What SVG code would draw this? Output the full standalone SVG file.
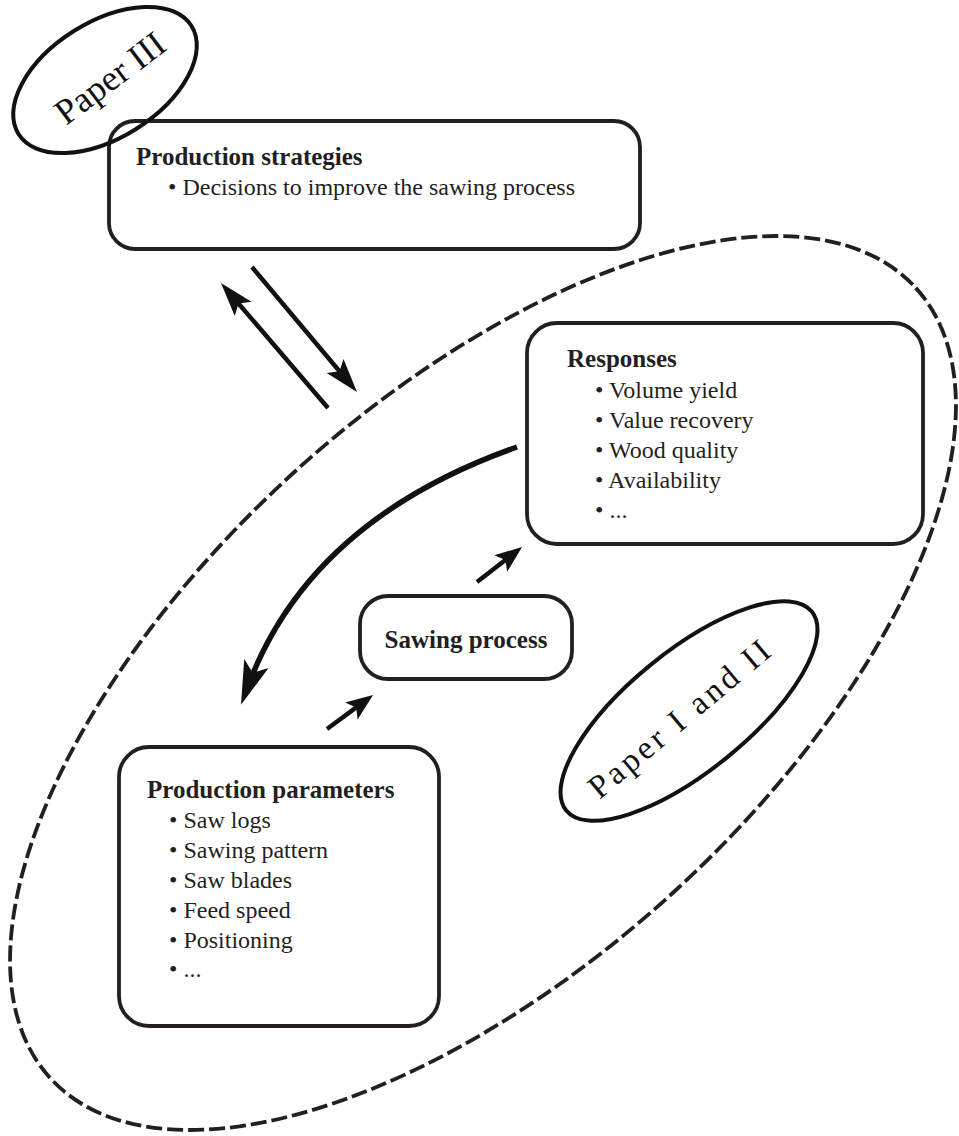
<svg xmlns="http://www.w3.org/2000/svg" width="959" height="1136" viewBox="0 0 959 1136">
<style>
.box{fill:#fff;stroke:#231f20;stroke-width:3.8}
.oval{fill:none;stroke:#111;stroke-width:4}
.dash{fill:none;stroke:#231f20;stroke-width:3.8;stroke-dasharray:16 5}
.h{font-family:"Liberation Serif","Times New Roman",serif;font-weight:bold;font-size:25px;fill:#231f20}
.t{font-family:"Liberation Serif","Times New Roman",serif;font-size:24px;fill:#231f20}
.lbl{font-family:"Liberation Serif","Times New Roman",serif;fill:#111}
.ln{fill:none;stroke:#111;stroke-width:4.5}
.arr{fill:#111}
</style>
<defs>
<marker id="headL" viewBox="-50 -20 60 40" markerWidth="60" markerHeight="40" refX="-20" refY="0" orient="auto" markerUnits="userSpaceOnUse">
<path class="arr" d="M0,0 L-44,-13 L-34,0 L-44,13 Z"/>
</marker>
<marker id="headM" viewBox="-50 -20 60 40" markerWidth="60" markerHeight="40" refX="-20" refY="0" orient="auto" markerUnits="userSpaceOnUse">
<path class="arr" d="M0,0 L-34,-11 L-27,0 L-34,11 Z"/>
</marker>
<marker id="headS" viewBox="-50 -20 60 40" markerWidth="60" markerHeight="40" refX="-15" refY="0" orient="auto" markerUnits="userSpaceOnUse">
<path class="arr" d="M0,0 L-27,-10.5 L-21,0 L-27,10.5 Z"/>
</marker>
</defs>
<rect width="959" height="1136" fill="#fff"/>

<g id="scope-papers-1-2">
<ellipse class="dash" cx="483" cy="683" rx="586" ry="283" transform="rotate(-42.4 483 683)"/>
</g>

<g id="production-strategies">
<rect class="box" x="109" y="121" width="531" height="128" rx="26"/>
<text class="h" x="136" y="165">Production strategies</text>
<text class="t" x="168" y="195">• Decisions to improve the sawing process</text>
</g>

<g id="paper-3">
<ellipse class="oval" cx="105" cy="80" rx="102" ry="58" transform="rotate(-32 105 80)"/>
<text class="lbl" font-size="36" text-anchor="middle" textLength="128" lengthAdjust="spacing" transform="translate(110 78) rotate(-37)" x="0" y="12">Paper III</text>
</g>

<g id="responses">
<rect class="box" x="527" y="323" width="396" height="221" rx="30"/>
<text class="h" x="567" y="367">Responses</text>
<text class="t" x="595" y="398">• Volume yield</text>
<text class="t" x="595" y="428">• Value recovery</text>
<text class="t" x="595" y="458">• Wood quality</text>
<text class="t" x="595" y="488">• Availability</text>
<text class="t" x="595" y="518">• ...</text>
</g>

<g id="sawing-process">
<rect class="box" x="360" y="596" width="212" height="83" rx="28"/>
<text class="h" x="466" y="648" text-anchor="middle">Sawing process</text>
</g>

<g id="paper-1-2">
<ellipse class="oval" cx="689" cy="711" rx="158" ry="60" transform="rotate(-39 689 711)"/>
<text class="lbl" font-size="33" text-anchor="middle" textLength="226" lengthAdjust="spacing" transform="translate(679 719) rotate(-40)" x="0" y="11">Paper I and II</text>
</g>

<g id="production-parameters">
<rect class="box" x="119" y="747" width="320" height="279" rx="30"/>
<text class="h" x="147" y="798">Production parameters</text>
<text class="t" x="169" y="828">• Saw logs</text>
<text class="t" x="169" y="858">• Sawing pattern</text>
<text class="t" x="169" y="888">• Saw blades</text>
<text class="t" x="169" y="918">• Feed speed</text>
<text class="t" x="169" y="948">• Positioning</text>
<text class="t" x="169" y="977">• ...</text>
</g>

<g id="connectors">
<path class="ln" d="M252,267 L344.1,376.7" marker-end="url(#headM)"/>
<path class="ln" d="M328,408 L234,298.2" marker-end="url(#headM)"/>
<path class="ln" style="stroke-width:5.5" d="M517,447 Q310,520 248,686" marker-end="url(#headL)"/>
<path class="ln" d="M477,582 L510.2,556.2" marker-end="url(#headS)"/>
<path class="ln" d="M327,729 L361,703.9" marker-end="url(#headS)"/>
</g>
</svg>
